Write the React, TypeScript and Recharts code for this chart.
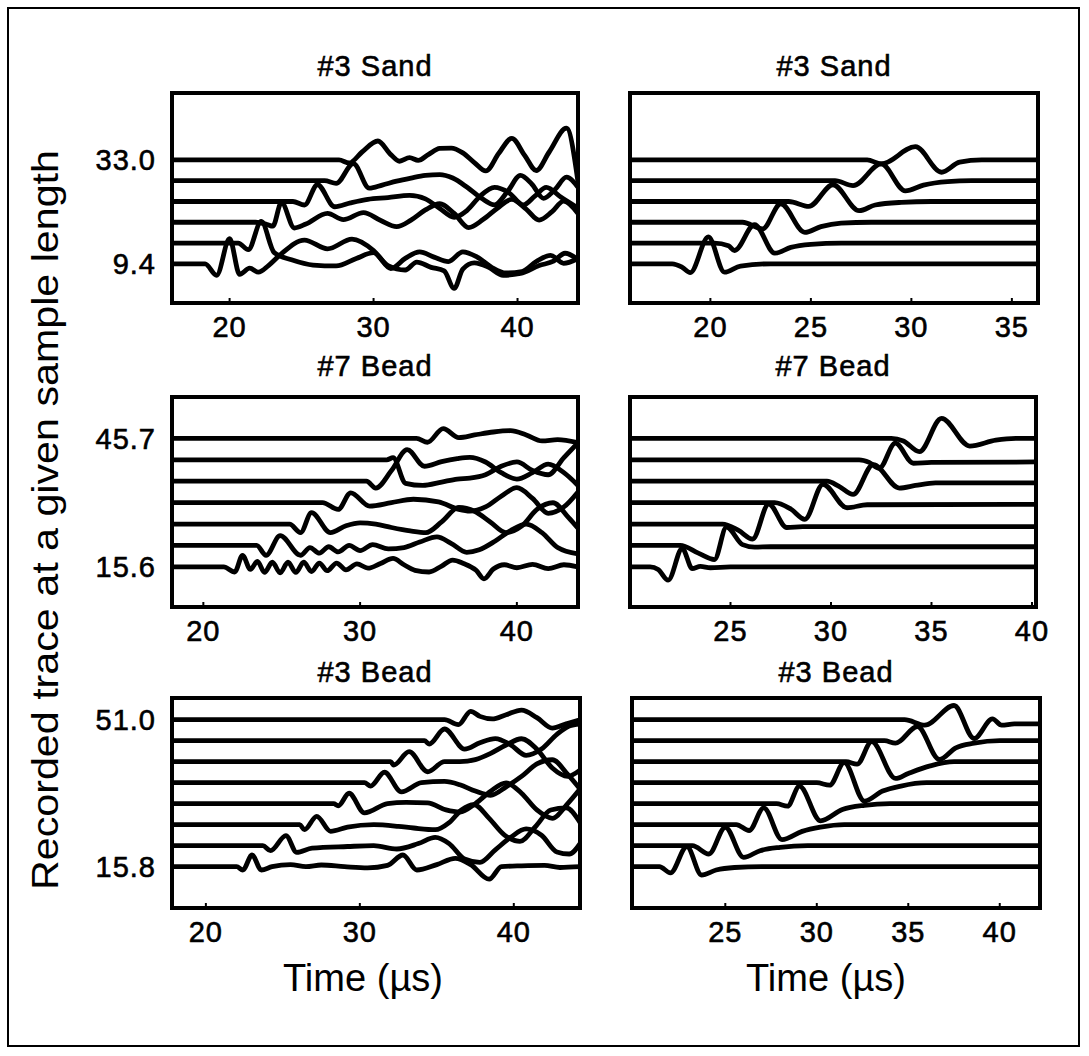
import React from "react";
import { LineChart, Line, XAxis, YAxis, ReferenceArea } from "recharts";

type Pt = [number, number];

// each trace: [time (us), offset from its baseline]
// #3 Sand
const sandBase = [33.0, 28.28, 23.56, 18.84, 14.12, 9.4];
const sandLeft: Pt[][] = [
  [[16, 0], [27.6, 0], [28.3, -0.7], [29.2, 1.8], [30.3, 4.3], [31.2, 1.2], [31.8, -0.3], [32.5, 0.5], [33.1, -0.1], [33.8, 1.2], [34.6, 2.6], [35.4, 2.7], [36.2, 1.6], [37.0, -0.6], [37.8, -2.5], [38.7, 1.5], [39.6, 4.9], [40.5, 1.0], [41.3, -2.4], [42.2, 1.8], [43.4, 7.2], [44.2, -5.0]],
  [[16, 0], [26.6, 0], [27.4, -0.6], [28.6, 3.9], [29.7, -1.7], [30.6, -1.0], [31.6, -0.1], [32.6, 0.6], [33.6, 1.2], [34.6, 1.4], [35.5, 0.6], [36.5, -1.5], [37.5, -4.0], [38.4, -5.5], [39.3, -2.5], [40.2, 1.2], [41.0, -0.8], [41.8, -4.0], [42.6, -2.0], [43.4, 0.8], [44.2, -1.5]],
  [[16, 0], [24.4, 0], [25.2, -0.8], [26.1, 3.8], [27.3, -1.2], [28.4, -0.3], [29.6, 0.5], [31.0, 0.9], [32.5, 1.4], [33.6, 0.6], [34.6, -1.6], [35.6, -3.6], [36.5, -2.0], [37.4, 1.2], [38.4, 3.2], [39.4, 2.0], [40.4, -0.8], [41.2, 1.2], [42.0, 3.2], [43.0, 1.0], [44.2, -1.5]],
  [[16, 0], [21.8, 0], [22.6, -0.5], [23.0, -0.9], [23.6, 4.5], [24.5, -1.3], [25.3, -0.4], [26.8, 2.0], [27.9, 0.6], [29.3, 2.2], [30.5, 0.4], [31.6, -1.0], [32.6, 0.5], [33.6, 2.8], [34.6, 4.2], [35.6, 2.0], [36.6, -1.2], [37.6, 0.6], [38.6, 3.2], [39.6, 5.2], [40.6, 3.0], [41.5, 0.5], [42.4, 2.4], [43.2, 4.8], [44.2, 2.0]],
  [[16, 0], [20.6, 0], [21.3, -1.5], [22.2, 4.9], [23.1, -2.2], [24.3, -3.8], [25.8, -5.0], [27.4, -5.2], [28.8, -3.5], [30.0, -2.2], [31.2, -5.8], [32.2, -3.5], [33.2, -2.0], [34.2, -3.2], [35.2, -4.2], [36.2, -2.0], [37.2, -3.2], [38.2, -5.5], [39.2, -6.8], [40.3, -6.5], [41.3, -4.2], [42.3, -2.8], [43.2, -4.6], [44.2, -3.5]],
  [[16, 0], [18.3, 0], [19.1, -2.6], [20.0, 5.7], [20.7, -2.4], [21.4, -1.0], [22.0, -1.9], [22.7, -0.4], [23.5, 2.0], [25.2, 5.4], [26.8, 3.4], [28.5, 5.6], [30.0, 3.0], [31.0, -0.4], [32.2, -1.4], [33.0, 0.4], [34.0, -0.8], [34.9, -1.6], [35.6, -5.6], [36.2, -1.2], [37.0, 0.2], [38.0, -0.8], [39.0, -2.6], [40.2, -2.2], [41.5, -0.4], [42.5, 0.6], [43.3, 2.4], [44.2, 1.0]],
];
const sandRight: Pt[][] = [
  [[16, 0], [27.8, 0], [28.5, -0.9], [30.2, 3.0], [31.5, -2.8], [32.4, -0.5], [33.5, 0], [36.3, 0]],
  [[16, 0], [26.2, 0], [27.1, -1.1], [28.5, 3.8], [29.7, -2.3], [30.6, -1.0], [31.8, -0.2], [33, 0], [36.3, 0]],
  [[16, 0], [23.9, 0], [24.9, -1.1], [26.1, 3.8], [27.4, -2.1], [28.2, -0.8], [29.5, -0.2], [31, 0], [36.3, 0]],
  [[16, 0], [21.6, 0], [22.6, -1.5], [23.5, 4.2], [24.7, -2.3], [25.5, -1.0], [26.5, -0.2], [28, 0], [36.3, 0]],
  [[16, 0], [20.2, 0], [20.9, -0.6], [21.2, -1.7], [22.2, 4.2], [23.2, -2.3], [24.0, -1.0], [25.0, -0.3], [26.5, 0], [36.3, 0]],
  [[16, 0], [18.1, 0], [18.6, -0.8], [19.0, -2.0], [19.9, 6.1], [20.7, -1.9], [21.5, -0.5], [23, 0], [36.3, 0]],
];

// #7 Bead
const bead7Base = [45.7, 40.68, 35.67, 30.65, 25.63, 20.62, 15.6];
const bead7Left: Pt[][] = [
  [[18, 0], [33.6, 0], [34.3, -0.9], [35.3, 2.3], [36.3, 0.2], [37.3, 0.8], [38.5, 1.5], [39.6, 1.8], [40.6, 0.8], [41.6, -0.6], [42.6, -0.3], [43.9, -1.0]],
  [[18, 0], [31.7, 0], [32.1, 0.5], [32.9, -5.5], [34.0, -6.0], [35.2, -5.2], [36.2, -4.5], [37.0, -4.3], [38.0, -3.5], [39.0, -1.5], [40.0, -0.5], [41.0, -2.5], [42.0, -3.5], [43.0, 0.5], [43.9, 4.0]],
  [[18, 0], [30.4, 0], [31.0, -1.6], [32.0, 2.5], [33.0, 7.4], [34.1, 3.5], [35.2, 4.6], [36.2, 5.3], [37.0, 5.6], [38.0, 4.5], [39.0, 2.0], [40.0, 0.5], [41.0, 2.0], [42.0, 4.0], [43.0, 2.0], [43.9, -1.0]],
  [[18, 0], [27.6, 0], [28.6, -1.6], [29.4, 2.3], [30.6, -0.8], [32.0, 0.0], [33.4, 0.8], [35.0, 0.2], [36.3, -1.6], [37.0, -2.0], [38.0, -1.0], [39.0, 1.5], [40.0, 3.5], [41.0, 1.0], [42.0, -2.5], [43.0, -1.0], [43.9, 2.5]],
  [[18, 0], [25.5, 0], [26.2, -2.0], [26.9, 2.7], [28.1, -2.0], [29.1, -0.4], [30.0, 0.3], [31.0, 0.0], [32.0, -0.8], [33.2, -1.6], [34.2, -2.0], [35.2, 0.5], [36.3, 3.9], [37.3, 3.0], [38.3, 0.5], [39.3, -2.0], [40.3, -0.5], [41.3, 3.5], [42.3, 5.0], [43.3, 1.5], [43.9, -1.0]],
  [[18, 0], [23.4, 0], [24.0, -2.3], [24.9, 2.3], [26.2, -2.3], [26.8, -0.5], [27.4, -1.8], [28.0, -0.3], [28.6, -1.5], [29.3, 0.0], [30.0, -1.2], [30.8, 0.2], [31.8, -0.8], [32.8, -0.5], [33.8, 0.8], [34.9, 2.0], [35.8, 0.5], [36.8, -1.6], [37.6, -1.0], [38.6, 1.0], [39.6, 3.5], [40.6, 5.0], [41.6, 3.0], [42.6, -0.5], [43.9, -2.0]],
  [[18, 0], [21.3, 0], [22.0, -1.2], [22.5, 2.7], [23.0, -0.6], [23.45, 1.3], [23.9, -1.3], [24.4, 1.1], [24.9, -1.4], [25.4, 1.1], [25.9, -1.3], [26.4, 1.1], [26.9, -1.1], [27.4, 0.9], [27.9, -0.9], [28.5, 0.9], [29.1, -0.7], [29.8, 0.7], [30.5, -0.3], [31.3, 0.8], [32.1, 2.0], [32.8, 0.5], [33.5, -0.8], [34.4, -1.2], [35.2, 0.2], [35.9, 1.6], [36.6, 0.8], [37.4, -0.8], [37.9, -2.8], [38.5, -0.5], [39.2, 0.5], [40.0, -0.2], [41.0, 0.6], [42.0, -0.4], [43.0, 0.5], [43.9, 0.0]],
];
const bead7Right: Pt[][] = [
  [[20, 0], [33.0, 0], [33.6, -0.6], [34.4, -3.1], [35.5, 4.7], [36.9, -1.8], [38.2, -0.4], [39.2, 0], [40.2, 0]],
  [[20, 0], [31.4, 0], [31.9, -0.6], [32.4, -2.0], [33.2, 3.9], [34.1, -0.8], [35.0, -0.6], [40.2, -0.5]],
  [[20, 0], [29.8, 0], [30.4, -1.2], [31.1, -3.1], [32.1, 3.9], [33.4, -1.6], [34.2, -1.0], [35.2, -0.4], [40.2, -0.4]],
  [[20, 0], [27.2, 0], [28.0, -1.5], [28.7, -3.9], [29.6, 4.3], [30.8, -1.2], [31.8, -0.5], [40.2, -0.4]],
  [[20, 0], [24.6, 0], [25.4, -1.5], [26.1, -3.5], [26.9, 4.7], [27.8, -0.8], [28.6, -0.6], [40.2, -0.6]],
  [[20, 0], [22.5, 0], [23.4, -1.8], [24.2, -3.3], [24.8, 4.3], [25.6, 0.2], [26.2, -0.4], [27, -0.3], [40.2, -0.3]],
  [[20, 0], [21.0, 0], [21.4, -0.6], [21.9, -3.1], [22.6, 4.3], [23.1, -0.4], [23.5, 0.1], [24.0, -0.2], [25, 0], [40.2, 0]],
];

// #3 Bead
const bead3Base = [51.0, 45.97, 40.94, 35.91, 30.89, 25.86, 20.83, 15.8];
const bead3Left: Pt[][] = [
  [[17.8, 0], [35.5, 0], [36.4, -1.2], [37.2, 2.0], [37.8, 0.8], [38.6, 0.2], [39.5, 1.2], [40.5, 2.3], [41.5, 0.5], [42.5, -2.0], [43.4, -1.0], [44.3, 0.0]],
  [[17.8, 0], [34.2, 0], [34.5, -0.8], [35.5, 2.8], [36.8, -2.0], [37.8, -0.5], [38.8, 0.5], [39.8, -1.0], [40.8, -3.5], [41.8, -2.0], [42.8, 1.5], [43.6, 3.5], [44.3, 4.0]],
  [[17.8, 0], [32.0, 0], [32.2, -0.8], [33.2, 2.4], [34.4, -2.4], [35.5, 0.0], [36.5, 0.0], [37.5, 0.5], [38.5, 2.0], [39.5, 4.0], [40.5, 5.5], [41.5, 3.0], [42.5, -1.5], [43.5, -3.5], [44.3, -2.0]],
  [[17.8, 0], [30.3, 0], [30.7, -0.8], [31.6, 2.5], [32.7, -2.2], [34.0, 0.0], [35.5, 0.3], [36.5, -0.5], [37.5, -2.0], [38.5, -3.0], [39.5, -1.0], [40.5, 1.5], [41.5, 4.5], [42.5, 5.5], [43.5, 2.0], [44.3, -1.5]],
  [[17.8, 0], [28.3, 0], [28.6, -0.5], [29.3, 2.5], [30.3, -2.2], [31.8, 0.0], [33.0, 0.3], [34.4, 0.2], [35.6, -1.5], [36.5, -2.0], [37.5, 0.0], [38.5, 3.0], [39.5, 5.0], [40.5, 2.5], [41.5, -1.5], [42.5, -3.5], [43.5, 0.0], [44.3, 3.5]],
  [[17.8, 0], [26.1, 0], [26.4, -1.2], [27.2, 2.0], [28.1, -1.6], [29.2, -0.6], [30.9, 0.0], [32.5, -0.4], [33.5, -0.8], [34.9, -1.2], [35.8, 0.5], [36.6, 3.5], [37.4, 4.8], [38.4, 1.5], [39.4, -2.5], [40.4, -4.0], [41.4, -0.5], [42.4, 3.5], [43.4, 4.0], [44.3, 0.5]],
  [[17.8, 0], [23.7, 0], [24.2, -1.2], [25.2, 2.4], [25.9, -1.6], [26.9, -0.6], [29.2, -0.2], [30.9, 0.0], [32.4, -0.8], [33.8, 0.5], [34.9, 2.0], [35.8, 0.5], [36.8, -3.2], [37.8, -4.0], [38.8, -1.0], [39.8, 2.0], [40.8, 4.0], [41.8, 2.5], [42.8, -1.5], [43.6, -2.0], [44.3, 0.5]],
  [[17.8, 0], [22.0, 0], [22.4, -0.8], [23.0, 2.8], [23.6, -0.8], [24.3, 0], [25.5, 0.5], [26.5, 0], [27.5, 0.4], [29, 0], [30.5, -0.3], [31.8, 0.3], [32.8, 2.8], [33.7, -0.8], [35, 0.5], [36.2, 2.0], [37.2, 0.5], [38.4, -3.0], [39.2, 0], [40.5, 0.2], [42, 0.3], [43, -0.2], [44.3, 0]],
];
const bead3Right: Pt[][] = [
  [[19.9, 0], [34.8, 0], [35.9, -1.3], [37.5, 3.4], [38.6, -4.5], [39.6, 0.2], [40.1, -1.3], [40.8, -1.0], [42.2, -1.0]],
  [[19.9, 0], [33.7, 0], [34.3, -0.6], [35.5, 3.4], [36.7, -4.5], [37.6, -1.7], [38.6, -0.6], [40, 0], [42.2, 0]],
  [[19.9, 0], [31.6, 0], [32.2, -0.6], [33.0, 4.8], [34.3, -4.0], [35.0, -2.8], [36.2, -1.0], [37.5, 0], [42.2, 0]],
  [[19.9, 0], [30.0, 0], [30.7, -0.6], [31.5, 4.8], [32.6, -4.4], [33.6, -2.0], [34.6, -0.8], [36, 0], [42.2, 0]],
  [[19.9, 0], [27.8, 0], [28.4, -0.6], [29.05, 4.2], [30.2, -4.1], [31.4, -1.4], [32.6, -0.4], [34, 0], [42.2, 0]],
  [[19.9, 0], [25.6, 0], [26.3, -1.4], [27.1, 4.0], [28.1, -3.6], [29.2, -1.6], [30.2, -0.6], [31.5, 0], [42.2, 0]],
  [[19.9, 0], [23.2, 0], [24.1, -2.0], [25.0, 4.4], [26.0, -2.8], [26.9, -1.2], [28.0, -0.4], [29.5, 0], [42.2, 0]],
  [[19.9, 0], [21.4, 0], [22.0, -1.5], [22.9, 4.8], [23.7, -2.0], [24.5, -0.8], [25.5, -0.2], [27, 0], [42.2, 0]],
];

const leftTicks = [20, 30, 40];
const sandRightTicks = [20, 25, 30, 35];
const beadRightTicks = [25, 30, 35, 40];

const FONT = "'Liberation Sans', Arial, Helvetica, sans-serif";
const AXW = 90;
const AXH = 60;
const RM = 26;

const tickStyle = { fill: "#000", fontSize: 29, fontFamily: FONT, letterSpacing: 1, stroke: "#000", strokeWidth: 0.6 };

type PanelProps = {
  x: number;
  y: number;
  w: number;
  h: number;
  xDomain: [number, number];
  yDomain: [number, number];
  xTicks: number[];
  base: number[];
  traces: Pt[][];
  showY: boolean;
};

function Panel({ x, y, w, h, xDomain, yDomain, xTicks, base, traces, showY }: PanelProps) {
  const series = traces.map((tr, i) => tr.map(([t, o]) => ({ t, v: base[i] + o })));
  const yTicks = [base[base.length - 1], base[0]];
  return (
    <div style={{ position: "absolute", left: x - AXW, top: y - 2 }}>
      <LineChart width={AXW + w + RM} height={2 + h + AXH} margin={{ top: 2, right: RM, bottom: 0, left: 0 }}>
        <XAxis
          type="number"
          dataKey="t"
          domain={xDomain}
          ticks={xTicks}
          interval={0}
          allowDataOverflow
          axisLine={false}
          tickLine={{ stroke: "#000", strokeWidth: 2 }}
          tickSize={-5}
          tickMargin={18}
          height={AXH}
          tick={tickStyle}
        />
        <YAxis
          type="number"
          domain={yDomain}
          ticks={yTicks}
          allowDataOverflow
          width={AXW}
          axisLine={false}
          tickLine={false}
          tickMargin={10}
          tick={showY ? tickStyle : false}
          tickFormatter={(v: number) => v.toFixed(1)}
        />
        <ReferenceArea
          x1={xDomain[0]}
          x2={xDomain[1]}
          y1={yDomain[0]}
          y2={yDomain[1]}
          fill="none"
          stroke="#000"
          strokeWidth={4}
        />
        {series.map((d, i) => (
          <Line
            key={i}
            data={d}
            dataKey="v"
            type="monotone"
            stroke="#000"
            strokeWidth={4.8}
            strokeLinejoin="round"
            dot={false}
            isAnimationActive={false}
          />
        ))}
      </LineChart>
    </div>
  );
}

export default function App() {
  const title = { textAnchor: "middle" as const, dominantBaseline: "central" as const, fontSize: 29, letterSpacing: 1, stroke: "#000", strokeWidth: 0.6 };
  return (
    <div style={{ position: "absolute", left: 0, top: 0, width: 1089, height: 1056, background: "#fff" }}>
      <svg width={1089} height={1056} style={{ position: "absolute", left: 0, top: 0 }} fontFamily={FONT}>
        <rect x={8} y={8} width={1071} height={1038} fill="none" stroke="#000" strokeWidth={2} />
        <text
          x={45}
          y={520}
          transform="rotate(-90 45 520)"
          textAnchor="middle"
          dominantBaseline="central"
          fontSize={36}
          textLength={740}
          lengthAdjust="spacingAndGlyphs"
        >
          Recorded trace at a given sample length
        </text>
        <text x={375} y={66} {...title}>#3 Sand</text>
        <text x={834} y={66} {...title}>#3 Sand</text>
        <text x={375} y={366} {...title}>#7 Bead</text>
        <text x={833} y={366} {...title}>#7 Bead</text>
        <text x={375} y={672} {...title}>#3 Bead</text>
        <text x={836} y={672} {...title}>#3 Bead</text>
        <text x={363} y={978} textAnchor="middle" dominantBaseline="central" fontSize={38} textLength={160} lengthAdjust="spacingAndGlyphs">Time (µs)</text>
        <text x={826} y={978} textAnchor="middle" dominantBaseline="central" fontSize={38} textLength={160} lengthAdjust="spacingAndGlyphs">Time (µs)</text>
      </svg>
      <Panel x={172} y={93} w={406} h={210} xDomain={[16, 44.2]} yDomain={[0.5, 48.2]} xTicks={leftTicks} base={sandBase} traces={sandLeft} showY />
      <Panel x={630} y={93} w={408} h={210} xDomain={[16, 36.3]} yDomain={[0.5, 48.2]} xTicks={sandRightTicks} base={sandBase} traces={sandRight} showY={false} />
      <Panel x={172} y={397} w={406} h={210} xDomain={[18, 43.9]} yDomain={[6.2, 55.4]} xTicks={leftTicks} base={bead7Base} traces={bead7Left} showY />
      <Panel x={630} y={397} w={406} h={210} xDomain={[20, 40.2]} yDomain={[6.2, 55.4]} xTicks={beadRightTicks} base={bead7Base} traces={bead7Right} showY={false} />
      <Panel x={172} y={698} w={408} h={210} xDomain={[17.8, 44.3]} yDomain={[5.9, 56.2]} xTicks={leftTicks} base={bead3Base} traces={bead3Left} showY />
      <Panel x={632} y={698} w={408} h={210} xDomain={[19.9, 42.2]} yDomain={[5.9, 56.2]} xTicks={beadRightTicks} base={bead3Base} traces={bead3Right} showY={false} />
    </div>
  );
}
